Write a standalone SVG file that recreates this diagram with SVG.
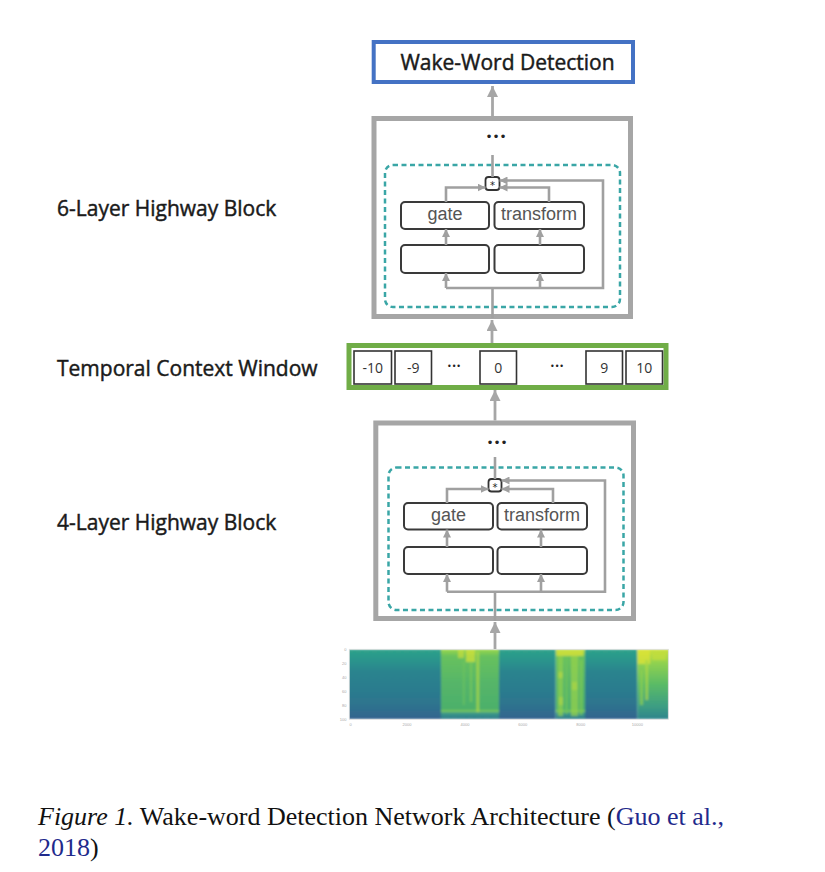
<svg xmlns="http://www.w3.org/2000/svg" width="825" height="872" viewBox="0 0 825 872">
<defs>
<style>
.lbl{font-family:"Open Sans","Liberation Sans",sans-serif;font-size:21px;fill:#1a1a1a;stroke:#1a1a1a;stroke-width:0.45}
.title{font-family:"Open Sans","Liberation Sans",sans-serif;font-size:21px;fill:#1a1a1a;stroke:#1a1a1a;stroke-width:0.45;text-anchor:middle}
.outer{fill:#fff;stroke:#a6a6a6;stroke-width:5}
.dash{fill:none;stroke:#3aa6a6;stroke-width:2.5;stroke-dasharray:5 3.5}
.box{fill:#fff;stroke:#3a3a3a;stroke-width:2}
.btxt{font-family:"Liberation Sans",Arial,sans-serif;font-size:18px;fill:#555;text-anchor:middle}
.wire{fill:none;stroke:#a0a0a0;stroke-width:2.6}
.main{fill:none;stroke:#a6a6a6;stroke-width:2.8}
.cell{fill:#fff;stroke:#333;stroke-width:1.6}
.ctxt{font-family:"Open Sans","Liberation Sans",sans-serif;font-size:14px;fill:#333;text-anchor:middle}
.dots{font-family:"DejaVu Sans",sans-serif;fill:#222;text-anchor:middle}
.tick{font-family:"Liberation Sans",sans-serif;font-size:4px;fill:#aaa}
.cap{font-family:"Liberation Serif","Times New Roman",serif;font-size:26px;fill:#111}
.ref{fill:#1f2a8c}
</style>
<marker id="hm" markerUnits="userSpaceOnUse" markerWidth="12" markerHeight="11" refX="11" refY="5.5" orient="auto"><path d="M0,0 L11,5.5 L0,11 z" fill="#a6a6a6"/></marker>
<marker id="hs" markerUnits="userSpaceOnUse" markerWidth="8" markerHeight="8" refX="8" refY="4" orient="auto"><path d="M0,0 L8,4 L0,8 z" fill="#a0a0a0"/></marker>
<linearGradient id="gDark" x1="0" y1="0" x2="0" y2="1">
<stop offset="0" stop-color="#2ea28a"/><stop offset="0.15" stop-color="#2a958c"/><stop offset="0.32" stop-color="#2a848e"/><stop offset="0.75" stop-color="#2d768e"/><stop offset="0.95" stop-color="#31688e"/><stop offset="1" stop-color="#355f8d"/>
</linearGradient>
<linearGradient id="gBright" x1="0" y1="0" x2="0" y2="1">
<stop offset="0" stop-color="#9ad64a"/><stop offset="0.1" stop-color="#68c15e"/><stop offset="0.5" stop-color="#55b569"/><stop offset="0.86" stop-color="#4cb06b"/><stop offset="0.88" stop-color="#86cf55"/><stop offset="0.91" stop-color="#3b9a86"/><stop offset="1" stop-color="#2e7a8d"/>
</linearGradient>
<linearGradient id="gBright3" x1="0" y1="0" x2="0" y2="1">
<stop offset="0" stop-color="#c9e03c"/><stop offset="0.2" stop-color="#8fd150"/><stop offset="0.5" stop-color="#5bbb66"/><stop offset="0.8" stop-color="#3e9f82"/><stop offset="1" stop-color="#2f848c"/>
</linearGradient>
<filter id="soft" x="-2%" y="-5%" width="104%" height="110%"><feGaussianBlur stdDeviation="1.1"/></filter>
<clipPath id="specClip"><rect x="349.3" y="649.3" width="319" height="70"/></clipPath>
</defs>
<rect width="825" height="872" fill="#fff"/>

<g id="labels">
<text class="lbl" x="57" y="216">6-Layer Highway Block</text>
<text class="lbl" x="57" y="376">Temporal Context Window</text>
<text class="lbl" x="57" y="530">4-Layer Highway Block</text>
</g>

<g id="wake-word-detection">
<rect x="373.7" y="42" width="259.3" height="40" fill="#fff" stroke="#4472c4" stroke-width="4"/>
<text class="title" x="507.5" y="70">Wake-Word Detection</text>
</g>

<g id="highway-6">
<rect class="outer" x="374" y="118.5" width="256.5" height="198"/>
<text class="dots" x="496" y="141" font-size="12">•••</text>
<rect class="dash" x="385" y="165" width="235" height="142" rx="8"/>
<g id="h6-mult"><rect x="485.5" y="177" width="14" height="13" rx="3" fill="#fff" stroke="#333" stroke-width="1.8"/><text x="492.5" y="189" font-family="DejaVu Sans,sans-serif" font-size="10" text-anchor="middle" fill="#222">*</text></g>
<g id="h6-gate"><rect class="box" x="401" y="202" width="88" height="27" rx="4"/><text class="btxt" x="445" y="220">gate</text></g>
<g id="h6-transform"><rect class="box" x="494.5" y="202" width="89.5" height="27" rx="4"/><text class="btxt" x="539" y="220">transform</text></g>
<g id="h6-gate-in"><rect class="box" x="401" y="245" width="88" height="28" rx="4"/></g>
<g id="h6-transform-in"><rect class="box" x="494.5" y="245" width="89.5" height="28" rx="4"/></g>
</g>

<g id="context-window">
<rect x="349" y="345.5" width="317" height="42" fill="#fff" stroke="#70ad47" stroke-width="5"/>
<rect class="cell" x="354" y="351" width="37.5" height="33"/><text class="ctxt" x="372.8" y="372.5">-10</text>
<rect class="cell" x="395" y="351" width="36.5" height="33"/><text class="ctxt" x="413.3" y="372.5">-9</text>
<text class="dots" x="454" y="369" font-size="8">•••</text>
<rect class="cell" x="480" y="351" width="36.5" height="33"/><text class="ctxt" x="498.3" y="372.5">0</text>
<text class="dots" x="557" y="369" font-size="8">•••</text>
<rect class="cell" x="586" y="351" width="36.5" height="33"/><text class="ctxt" x="604.3" y="372.5">9</text>
<rect class="cell" x="626" y="351" width="36.5" height="33"/><text class="ctxt" x="644.3" y="372.5">10</text>
</g>

<g id="highway-4">
<rect class="outer" x="375.8" y="423" width="257.7" height="195.5"/>
<text class="dots" x="497" y="447" font-size="12">•••</text>
<rect class="dash" x="388.5" y="467.5" width="235" height="142.5" rx="8"/>
<g id="h4-mult"><rect x="488.5" y="479" width="13" height="12.5" rx="3" fill="#fff" stroke="#333" stroke-width="1.8"/><text x="495" y="490.5" font-family="DejaVu Sans,sans-serif" font-size="10" text-anchor="middle" fill="#222">*</text></g>
<g id="h4-gate"><rect class="box" x="404" y="503" width="89" height="26.5" rx="4"/><text class="btxt" x="448.5" y="521">gate</text></g>
<g id="h4-transform"><rect class="box" x="497.5" y="503" width="89.5" height="26.5" rx="4"/><text class="btxt" x="542" y="521">transform</text></g>
<g id="h4-gate-in"><rect class="box" x="404" y="547" width="89" height="27" rx="4"/></g>
<g id="h4-transform-in"><rect class="box" x="497.5" y="547" width="89.5" height="27" rx="4"/></g>
</g>

<g id="spectrogram">
<g clip-path="url(#specClip)">
<g filter="url(#soft)">
<rect x="345" y="649.3" width="96.3" height="70" fill="url(#gDark)"/>
<rect x="441" y="649.3" width="58" height="70" fill="url(#gBright)"/>
<rect x="499" y="649.3" width="56.7" height="70" fill="url(#gDark)"/>
<rect x="555.7" y="649.3" width="29.5" height="70" fill="url(#gBright)"/>
<rect x="585" y="649.3" width="52.3" height="70" fill="url(#gDark)"/>
<rect x="637.3" y="649.3" width="35" height="70" fill="url(#gBright3)"/>
<g opacity="0.7">
<rect x="458" y="650" width="6" height="8" fill="#c8df3c"/>
<rect x="466" y="650" width="9" height="12" fill="#d9e436"/>
<rect x="476.5" y="652" width="2.6" height="60" fill="#b7dd42"/>
<rect x="470" y="662" width="2" height="40" fill="#7ccc56"/>
<rect x="463" y="660" width="1.5" height="45" fill="#72c75a"/>
<rect x="556.5" y="650" width="27" height="6" fill="#e3e535"/>
<rect x="558" y="656" width="5" height="60" fill="#92d24c"/>
<rect x="565" y="656" width="3" height="58" fill="#6fc45c"/>
<rect x="571" y="656" width="7" height="60" fill="#9ad44a"/>
<rect x="558.5" y="672" width="4" height="6" fill="#c8e03c"/>
<rect x="572" y="682" width="5" height="8" fill="#c0de3e"/>
<rect x="559" y="697" width="4" height="8" fill="#bfde3f"/>
<rect x="579.5" y="660" width="3" height="55" fill="#80cc52"/>
<rect x="638" y="650" width="12" height="14" fill="#e2e535"/>
<rect x="645.5" y="660" width="2.5" height="40" fill="#b6dc42"/>
<rect x="652" y="652" width="14" height="8" fill="#c4df3d"/>
<rect x="640" y="670" width="3" height="35" fill="#90d14e"/>
</g>
</g>
</g>
<rect x="349.3" y="649.3" width="319" height="70" fill="none" stroke="#dcdcdc" stroke-width="0.8"/>
<g class="tick">
<text x="346.5" y="650.5" text-anchor="end">0</text>
<text x="346.5" y="664.5" text-anchor="end">20</text>
<text x="346.5" y="678.5" text-anchor="end">40</text>
<text x="346.5" y="692.5" text-anchor="end">60</text>
<text x="346.5" y="706.5" text-anchor="end">80</text>
<text x="346.5" y="720.5" text-anchor="end">100</text>
<text x="350.7" y="726" text-anchor="middle">0</text>
<text x="407" y="726" text-anchor="middle">2000</text>
<text x="465" y="726" text-anchor="middle">4000</text>
<text x="522.7" y="726" text-anchor="middle">6000</text>
<text x="580.7" y="726" text-anchor="middle">8000</text>
<text x="637.3" y="726" text-anchor="middle">10000</text>
</g>
</g>

<g id="connectors">
<path class="main" d="M492.5,116 V86" marker-end="url(#hm)"/>
<path class="main" d="M492,343 V320" marker-end="url(#hm)"/>
<path class="main" d="M495,420.5 V390" marker-end="url(#hm)"/>
<path class="main" d="M495,649 V622" marker-end="url(#hm)"/>
<path class="wire" d="M492.5,155 V177"/>
<path class="wire" d="M492.5,318 V288"/>
<path class="wire" d="M446,202 V187.5 H485.5" marker-end="url(#hs)"/>
<path class="wire" d="M549,202 V187.5 H499.5" marker-end="url(#hs)"/>
<path class="wire" d="M446,288 H603 V180.5 H499.5" marker-end="url(#hs)"/>
<path class="wire" d="M446,288 V273" marker-end="url(#hs)"/>
<path class="wire" d="M540,288 V273" marker-end="url(#hs)"/>
<path class="wire" d="M446,245 V229" marker-end="url(#hs)"/>
<path class="wire" d="M540,245 V229" marker-end="url(#hs)"/>
<path class="wire" d="M495,457 V479"/>
<path class="wire" d="M495,621 V591.7"/>
<path class="wire" d="M447,503 V489 H488.5" marker-end="url(#hs)"/>
<path class="wire" d="M553,503 V489 H501.5" marker-end="url(#hs)"/>
<path class="wire" d="M447,591.7 H605 V480.5 H501.5" marker-end="url(#hs)"/>
<path class="wire" d="M447,591.7 V574" marker-end="url(#hs)"/>
<path class="wire" d="M541,591.7 V574" marker-end="url(#hs)"/>
<path class="wire" d="M447,547 V529.5" marker-end="url(#hs)"/>
<path class="wire" d="M541,547 V529.5" marker-end="url(#hs)"/>
</g>

<g id="caption">
<text class="cap" x="38" y="825"><tspan font-style="italic">Figure 1.</tspan> Wake-word Detection Network Architecture (<tspan class="ref">Guo et al.,</tspan></text>
<text class="cap" x="38" y="856"><tspan class="ref">2018</tspan>)</text>
</g>
</svg>
